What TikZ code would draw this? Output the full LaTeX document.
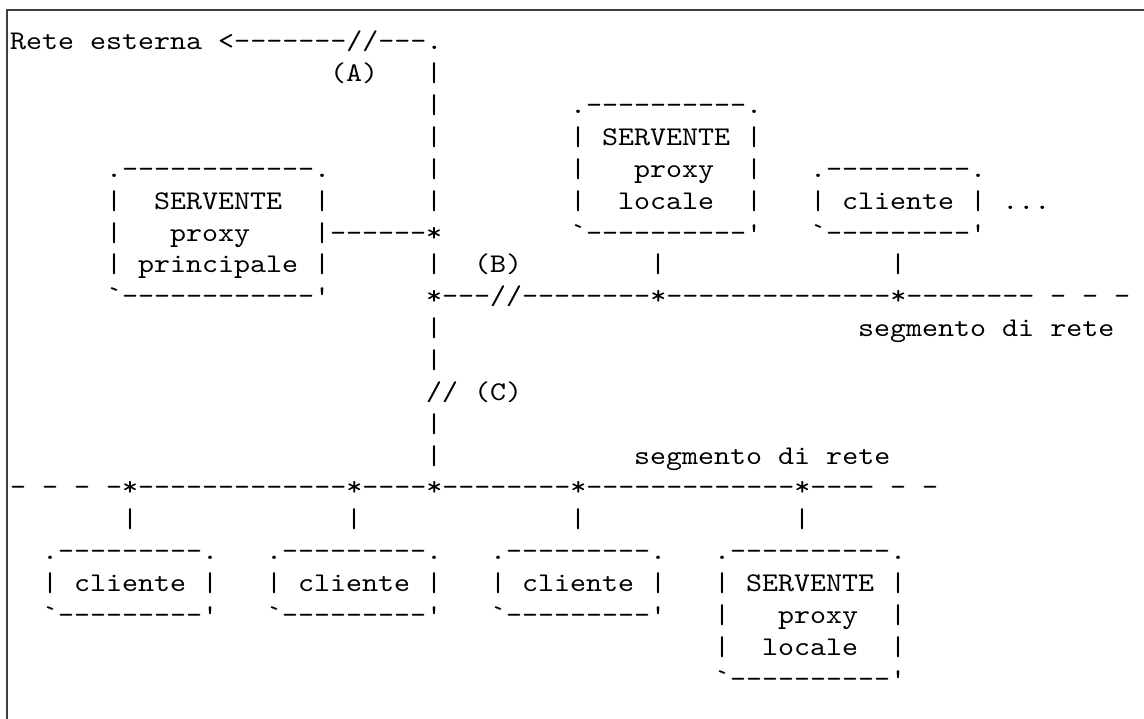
\documentclass[tikz,border=0pt]{standalone}
\usepackage{fontspec}
\newfontfamily\asciifont{lmmono10-regular.otf}[FakeStretch=1.129,Ligatures=TeXOff]
\tikzset{ascii/.style={font={\asciifont\fontsize{27pt}{32pt}\selectfont},inner sep=0pt,anchor=base west},
  frame/.style={draw=black!75,line width=1.2pt}}

\begin{document}
\begin{tikzpicture}[x=16pt,y=-31.85pt]
\useasboundingbox (-10pt,50pt) rectangle (1134pt,-669pt);
\draw[frame] (-3pt,-669pt) |- (1134pt,40pt);
\node[ascii] (rete) at (0,0) {Rete esterna <-------//---.};
\node[ascii] (A) at (20,1) {(A)};
\node[ascii] (a1) at (26,1) {|};
\node[ascii] (a2) at (26,2) {|};
\node[ascii] (a3) at (26,3) {|};
\node[ascii] (a4) at (26,4) {|};
\node[ascii] (a5) at (26,5) {|};
\node[ascii] (pp0) at (6,4) {.------------.};
\node[ascii] (pp1) at (6,5) {|};
\node[ascii] (pp1t) at (9,5) {SERVENTE};
\node[ascii] (pp1r) at (19,5) {|};
\node[ascii] (pp2) at (6,6) {|};
\node[ascii] (pp2t) at (10,6) {proxy};
\node[ascii] (pp2r) at (19,6) {|------*};
\node[ascii] (pp3) at (6,7) {| principale |};
\node[ascii] (pp4) at (6,8) {`------------'};
\node[ascii] (pl0) at (35,2) {.----------.};
\node[ascii] (pl1) at (35,3) {| SERVENTE |};
\node[ascii] (pl2) at (35,4) {|};
\node[ascii] (pl2t) at (39,4) {proxy};
\node[ascii] (pl2r) at (46,4) {|};
\node[ascii] (pl3) at (35,5) {|};
\node[ascii] (pl3t) at (38,5) {locale};
\node[ascii] (pl3r) at (46,5) {|};
\node[ascii] (pl4) at (35,6) {`----------'};
\node[ascii] (cl0) at (50,4) {.---------.};
\node[ascii] (cl1) at (50,5) {| cliente | ...};
\node[ascii] (cl2) at (50,6) {`---------'};
\node[ascii] (b1) at (26,7) {|};
\node[ascii] (B) at (29,7) {(B)};
\node[ascii] (pl5) at (40,7) {|};
\node[ascii] (cl3) at (55,7) {|};
\node[ascii] (segB) at (26,8) {*---//--------*--------------*--------};
\node[ascii] (segBe) at (65,8) {- - -};
\node[ascii] (c1) at (26,9) {|};
\node[ascii] (segBt) at (53,9) {segmento di rete};
\node[ascii] (c2) at (26,10) {|};
\node[ascii] (C) at (26,11) {// (C)};
\node[ascii] (c3) at (26,12) {|};
\node[ascii] (c4) at (26,13) {|};
\node[ascii] (segCt) at (39,13) {segmento di rete};
\node[ascii] (segC) at (0,14) {- - - -*-------------*----*--------*-------------*----};
\node[ascii] (segCe) at (55,14) {- -};
\node[ascii] (d1) at (7,15) {|};
\node[ascii] (d2) at (21,15) {|};
\node[ascii] (d3) at (35,15) {|};
\node[ascii] (d4) at (49,15) {|};
\node[ascii] (k10) at (2,16) {.---------.};
\node[ascii] (k11) at (2,17) {| cliente |};
\node[ascii] (k12) at (2,18) {`---------'};
\node[ascii] (k20) at (16,16) {.---------.};
\node[ascii] (k21) at (16,17) {| cliente |};
\node[ascii] (k22) at (16,18) {`---------'};
\node[ascii] (k30) at (30,16) {.---------.};
\node[ascii] (k31) at (30,17) {| cliente |};
\node[ascii] (k32) at (30,18) {`---------'};
\node[ascii] (q0) at (44,16) {.----------.};
\node[ascii] (q1) at (44,17) {| SERVENTE |};
\node[ascii] (q2) at (44,18) {|};
\node[ascii] (q2t) at (48,18) {proxy};
\node[ascii] (q2r) at (55,18) {|};
\node[ascii] (q3) at (44,19) {|};
\node[ascii] (q3t) at (47,19) {locale};
\node[ascii] (q3r) at (55,19) {|};
\node[ascii] (q4) at (44,20) {`----------'};
\end{tikzpicture}
\end{document}
